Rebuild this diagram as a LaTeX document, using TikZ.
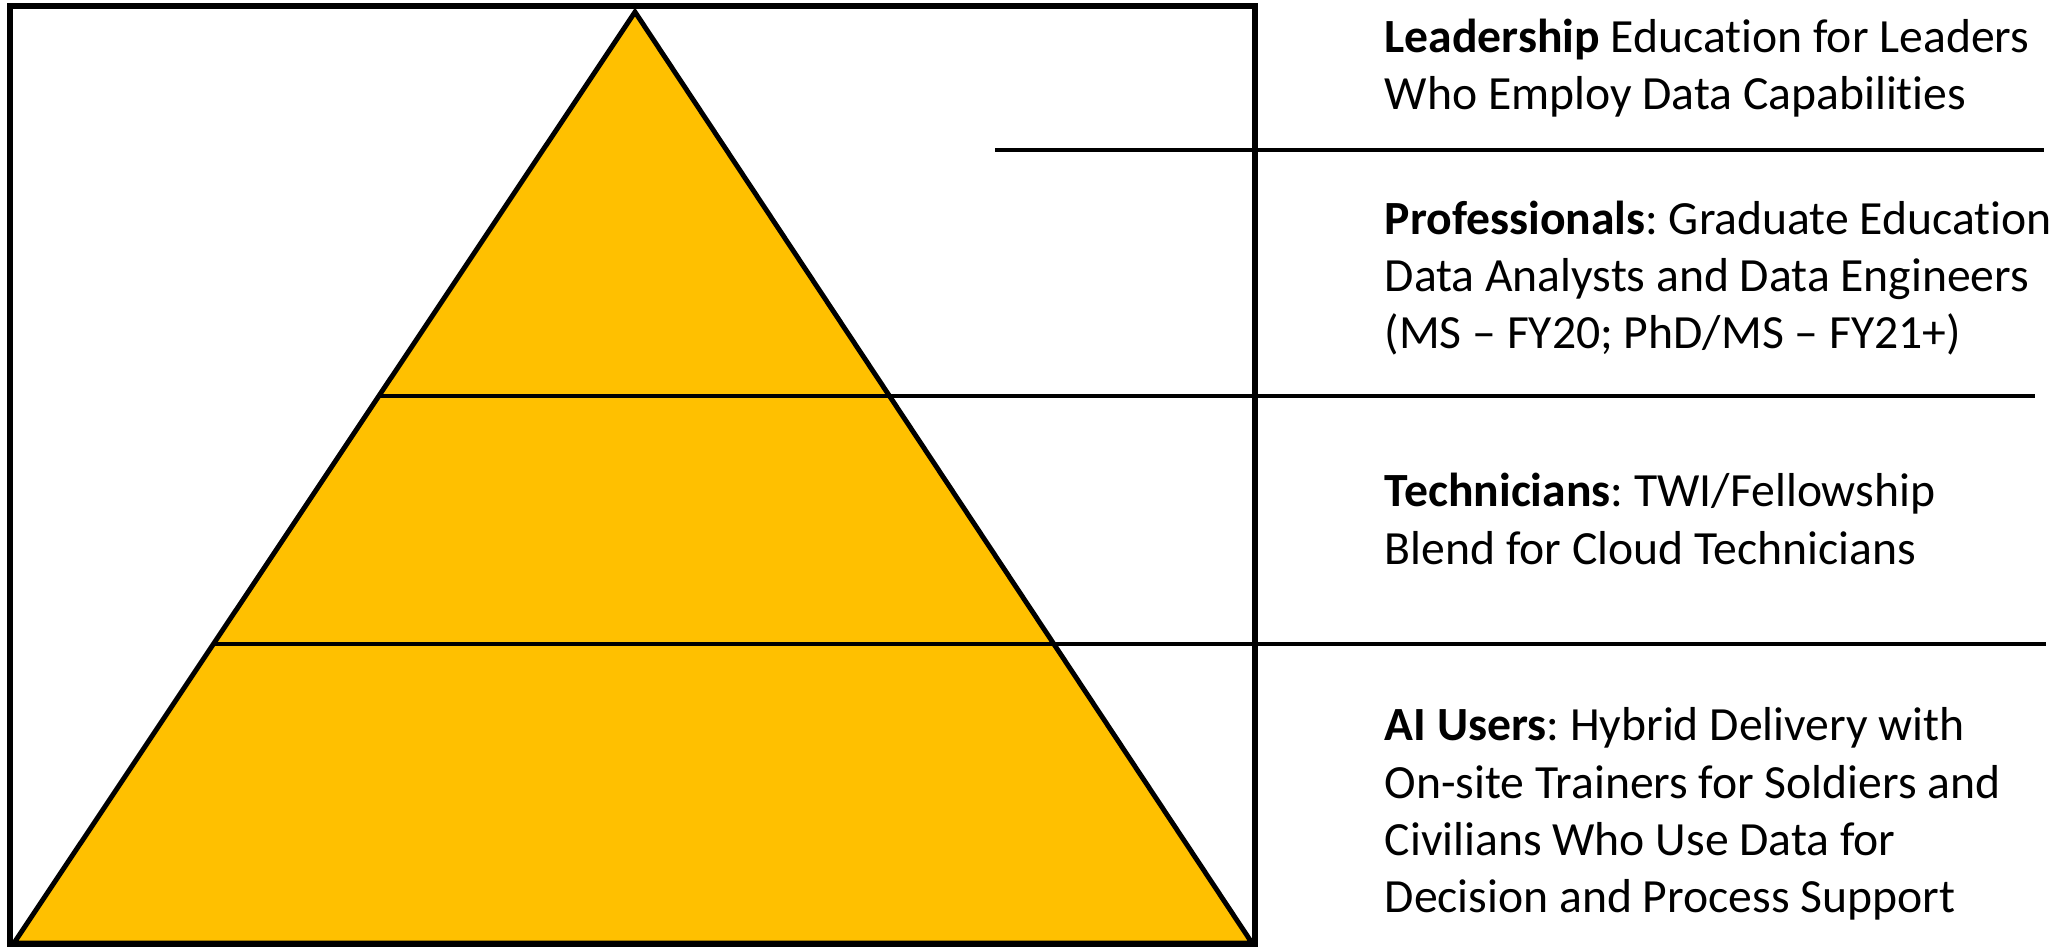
\documentclass[tikz,border=0pt]{standalone}
\usepackage{fontspec}
\setmainfont[Ligatures=NoCommon]{Carlito}
\definecolor{tiergold}{HTML}{FFC000}
\frenchspacing

\begin{document}
\begin{tikzpicture}[
x=0.01cm, y=-0.01cm,
frame/.style={draw=black, line width=1.7pt},
pyramid/.style={draw=black, fill=tiergold, line width=1.4pt, line join=miter},
divider/.style={draw=black, line width=1.4pt},
tier-text/.style={anchor=west, align=left, inner sep=0pt, font=\fontsize{13.55}{16.3}\selectfont}
]

\useasboundingbox (0,0) rectangle (2061,949);

\coordinate (apex) at (635,12);
\coordinate (base-left) at (14,943);
\coordinate (base-right) at (1252,943);

\path [pyramid] (apex) -- (base-left) -- (base-right) -- cycle;
\path [frame] (10,6) rectangle (1255,944);

\coordinate (lead-start) at (995,150);
\coordinate (lead-end) at (2044,150);
\coordinate (prof-start) at (380,396);
\coordinate (prof-end) at (2035,396);
\coordinate (tech-start) at (214,644);
\coordinate (tech-end) at (2046,644);

\path [divider] (lead-start) -- (lead-end);
\path [divider] (prof-start) -- (prof-end);
\path [divider] (tech-start) -- (tech-end);

\node [tier-text] (lead-text) at (1384,68) {\textbf{Leadership} Education for Leaders\\Who Employ Data Capabilities};
\node [tier-text] (prof-text) at (1384,278) {\textbf{Professionals}: Graduate Education\\Data Analysts and Data Engineers\\(MS -- FY20; PhD/MS -- FY21+)};
\node [tier-text] (tech-text) at (1384,519) {\textbf{Technicians}: TWI/Fellowship\\Blend for Cloud Technicians};
\node [tier-text] (user-text) at (1384,814) {\textbf{AI Users}: Hybrid Delivery with\\On-site Trainers for Soldiers and\\Civilians Who Use Data for\\Decision and Process Support};

\end{tikzpicture}
\end{document}
